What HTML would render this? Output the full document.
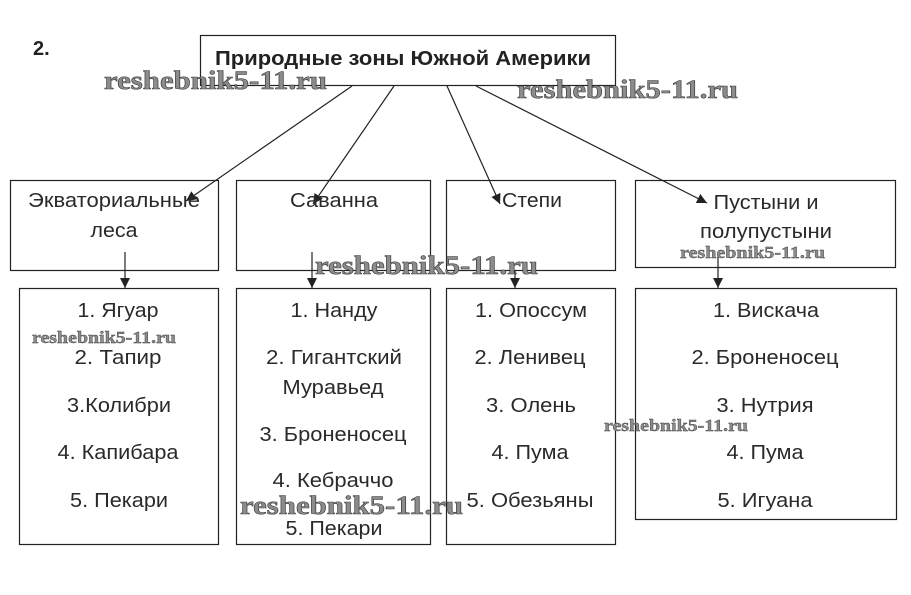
<!DOCTYPE html>
<html><head><meta charset="utf-8"><style>
html,body{margin:0;padding:0;background:#fff;}
svg{display:block;}
.t{font-family:"Liberation Sans","Noto Sans CJK SC",sans-serif;font-size:20px;fill:#2a2a2a;text-anchor:middle;}
.w{font-family:"Liberation Serif","DejaVu Serif",serif;font-weight:bold;fill:#8c8c8c;stroke:#3a3a3a;stroke-width:0.6;}
</style></head><body>
<svg width="911" height="595" viewBox="0 0 911 595" xmlns="http://www.w3.org/2000/svg">
<defs>
<marker id="ah" viewBox="0 0 10 10" refX="10" refY="5" markerWidth="10" markerHeight="10" markerUnits="userSpaceOnUse" orient="auto">
<path d="M0,0 L10,5 L0,10 z" fill="#222"/>
</marker>
</defs>
<rect width="911" height="595" fill="#fff"/>
<g fill="none" stroke="#222" stroke-width="1.2">
<rect x="200.5" y="35.5" width="415" height="50"/>
<rect x="10.5" y="180.5" width="208" height="90"/>
<rect x="236.5" y="180.5" width="194" height="90"/>
<rect x="446.5" y="180.5" width="169" height="90"/>
<rect x="635.5" y="180.5" width="260" height="87"/>
<rect x="19.5" y="288.5" width="199" height="256"/>
<rect x="236.5" y="288.5" width="194" height="256"/>
<rect x="446.5" y="288.5" width="169" height="256"/>
<rect x="635.5" y="288.5" width="261" height="231"/>
<line x1="352" y1="86" x2="186" y2="201" marker-end="url(#ah)"/>
<line x1="394" y1="86" x2="313" y2="204" marker-end="url(#ah)"/>
<line x1="447" y1="86" x2="500" y2="204" marker-end="url(#ah)"/>
<line x1="476" y1="86" x2="707" y2="203" marker-end="url(#ah)"/>
<line x1="125" y1="252" x2="125" y2="288" marker-end="url(#ah)"/>
<line x1="312" y1="252" x2="312" y2="288" marker-end="url(#ah)"/>
<line x1="515" y1="270" x2="515" y2="288" marker-end="url(#ah)"/>
<line x1="718" y1="252" x2="718" y2="288" marker-end="url(#ah)"/>
</g>
<text x="33" y="55" style="font-family:'Liberation Sans',sans-serif;font-weight:bold;font-size:20px;fill:#222">2.</text>
<text x="215" y="65" textLength="376" lengthAdjust="spacingAndGlyphs" style="font-family:'Liberation Sans','Noto Sans CJK SC',sans-serif;font-weight:bold;font-size:20px;fill:#222">Природные зоны Южной Америки</text>

<text class="t" x="114" y="207" textLength="172" lengthAdjust="spacingAndGlyphs">Экваториальные</text>
<text class="t" x="114" y="237" textLength="47" lengthAdjust="spacingAndGlyphs">леса</text>
<text class="t" x="334" y="207" textLength="88" lengthAdjust="spacingAndGlyphs">Саванна</text>
<text class="t" x="532" y="207" textLength="60" lengthAdjust="spacingAndGlyphs">Степи</text>
<text class="t" x="766" y="209" textLength="105" lengthAdjust="spacingAndGlyphs">Пустыни и</text>
<text class="t" x="766" y="238" textLength="132" lengthAdjust="spacingAndGlyphs">полупустыни</text>

<text class="t" x="118" y="317" textLength="81" lengthAdjust="spacingAndGlyphs">1. Ягуар</text>
<text class="t" x="118" y="364" textLength="87" lengthAdjust="spacingAndGlyphs">2. Тапир</text>
<text class="t" x="119" y="412" textLength="104" lengthAdjust="spacingAndGlyphs">3.Колибри</text>
<text class="t" x="118" y="459" textLength="121" lengthAdjust="spacingAndGlyphs">4. Капибара</text>
<text class="t" x="119" y="507" textLength="98" lengthAdjust="spacingAndGlyphs">5. Пекари</text>

<text class="t" x="334" y="317" textLength="87" lengthAdjust="spacingAndGlyphs">1. Нанду</text>
<text class="t" x="334" y="364" textLength="136" lengthAdjust="spacingAndGlyphs">2. Гигантский</text>
<text class="t" x="333" y="394" textLength="101" lengthAdjust="spacingAndGlyphs">Муравьед</text>
<text class="t" x="333" y="441" textLength="147" lengthAdjust="spacingAndGlyphs">3. Броненосец</text>
<text class="t" x="333" y="487" textLength="121" lengthAdjust="spacingAndGlyphs">4. Кебраччо</text>
<text class="t" x="334" y="535" textLength="97" lengthAdjust="spacingAndGlyphs">5. Пекари</text>

<text class="t" x="531" y="317" textLength="112" lengthAdjust="spacingAndGlyphs">1. Опоссум</text>
<text class="t" x="530" y="364" textLength="111" lengthAdjust="spacingAndGlyphs">2. Ленивец</text>
<text class="t" x="531" y="412" textLength="90" lengthAdjust="spacingAndGlyphs">3. Олень</text>
<text class="t" x="530" y="459" textLength="77" lengthAdjust="spacingAndGlyphs">4. Пума</text>
<text class="t" x="530" y="507" textLength="127" lengthAdjust="spacingAndGlyphs">5. Обезьяны</text>

<text class="t" x="766" y="317" textLength="106" lengthAdjust="spacingAndGlyphs">1. Вискача</text>
<text class="t" x="765" y="364" textLength="147" lengthAdjust="spacingAndGlyphs">2. Броненосец</text>
<text class="t" x="765" y="412" textLength="97" lengthAdjust="spacingAndGlyphs">3. Нутрия</text>
<text class="t" x="765" y="459" textLength="77" lengthAdjust="spacingAndGlyphs">4. Пума</text>
<text class="t" x="765" y="507" textLength="95" lengthAdjust="spacingAndGlyphs">5. Игуана</text>

<text class="w" x="104" y="89" font-size="26" textLength="223" lengthAdjust="spacingAndGlyphs">reshebnik5-11.ru</text>
<text class="w" x="517" y="98" font-size="26" textLength="221" lengthAdjust="spacingAndGlyphs">reshebnik5-11.ru</text>
<text class="w" x="315" y="274" font-size="26" textLength="223" lengthAdjust="spacingAndGlyphs">reshebnik5-11.ru</text>
<text class="w" x="240" y="514" font-size="26" textLength="223" lengthAdjust="spacingAndGlyphs">reshebnik5-11.ru</text>
<text class="w" x="680" y="258" font-size="17" textLength="145" lengthAdjust="spacingAndGlyphs" style="stroke-width:0.4">reshebnik5-11.ru</text>
<text class="w" x="32" y="343" font-size="17" textLength="144" lengthAdjust="spacingAndGlyphs" style="stroke-width:0.4">reshebnik5-11.ru</text>
<text class="w" x="604" y="431" font-size="17" textLength="144" lengthAdjust="spacingAndGlyphs" style="stroke-width:0.4">reshebnik5-11.ru</text>
</svg>
</body></html>
